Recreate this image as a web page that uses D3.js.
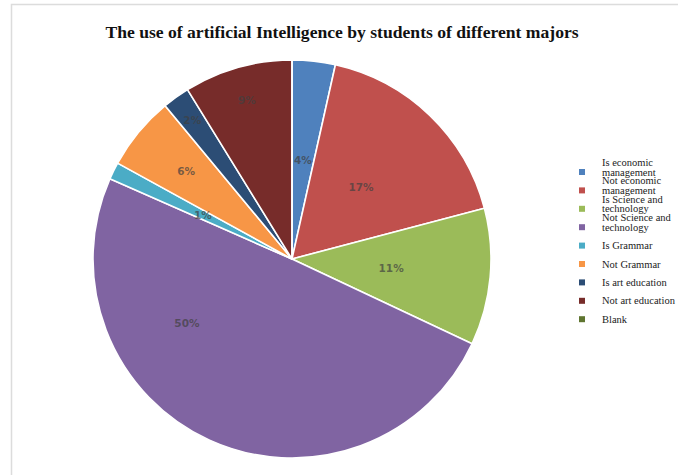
<!DOCTYPE html>
<html>
<head>
<meta charset="utf-8">
<title>AI use by major</title>
<script src="https://d3js.org/d3.v7.min.js"></script>
<style>
  body { margin: 0; background: #fff; }
  svg { display: block; }
</style>
</head>
<body>
<script>

// categories shown in the legend (same order as the slices, clockwise from 12 o'clock)
var categories = [
  "Is economic management",
  "Not economic management",
  "Is Science and technology",
  "Not Science and technology",
  "Is Grammar",
  "Not Grammar",
  "Is art education",
  "Not art education",
  "Blank"
];

// share of students, in percent
var shares = [3.5, 17.4, 11.1, 49.6, 1.4, 6.0, 2.2, 8.8, 0];

var colors = ["#4f81bd", "#c0504d", "#9bbb59", "#8064a2", "#4bacc6",
              "#f79646", "#2c4d75", "#772c2a", "#5f7530"];

var width = 678, height = 475;
var cx = 292, cy = 259, radius = 199;

var svg = d3.select("body").append("svg")
  .attr("width", width)
  .attr("height", height);

// faint frame of the chart area
svg.append("rect")
  .attr("x", 11.5).attr("y", 4.5)
  .attr("width", 720).attr("height", 520)
  .attr("fill", "none")
  .attr("stroke", "#dcdcdc")
  .attr("stroke-width", 1.5);

// title
svg.append("text")
  .attr("x", 342).attr("y", 38)
  .attr("text-anchor", "middle")
  .style("font-family", "'Liberation Serif', 'Times New Roman', serif")
  .style("font-weight", "bold")
  .style("font-size", "17.6px")
  .style("fill", "#111")
  .text("The use of artificial Intelligence by students of different majors");

var pie = d3.pie().sort(null).value(function(d) { return d; });
var arcs = pie(shares);

var arc = d3.arc().innerRadius(0).outerRadius(radius);

var g = svg.append("g").attr("transform", "translate(" + cx + "," + cy + ")");

g.selectAll("path")
  .data(arcs)
  .enter()
  .append("path")
  .attr("d", arc)
  .attr("fill", function(d, i) { return colors[i]; })
  .attr("stroke", "#fff")
  .attr("stroke-width", 1.6)
  .attr("stroke-linejoin", "round");

// label placement: fraction of radius, and where along the slice (0..1)
var place = {
  3: { r: 0.62, t: 0.69 },
  5: { r: 0.69, t: 0.5 },
  6: { r: 0.86, t: 0.5 },
  7: { r: 0.83, t: 0.5 }
};

g.selectAll("text.pct")
  .data(arcs.filter(function(d) { return d.value > 0; }))
  .enter()
  .append("text")
  .attr("class", "pct")
  .attr("text-anchor", "middle")
  .attr("dy", "0.35em")
  .attr("transform", function(d) {
    var p = place[d.index] || { r: 0.5, t: 0.5 };
    var a = d.startAngle + (d.endAngle - d.startAngle) * p.t;
    var r = radius * p.r;
    return "translate(" + (Math.sin(a) * r) + "," + (-Math.cos(a) * r) + ")";
  })
  .style("font-family", "'DejaVu Sans', sans-serif")
  .style("font-weight", "bold")
  .style("font-size", "10.5px")
  .style("fill", "#404040")
  .style("fill-opacity", 0.7)
  .text(function(d) { return Math.round(d.value) + "%"; });

// legend
var legend = svg.append("g").attr("transform", "translate(582,172)");

var row = legend.selectAll("g")
  .data(categories)
  .enter()
  .append("g")
  .attr("transform", function(d, i) { return "translate(0," + (i * 18.4) + ")"; });

row.append("rect")
  .attr("x", -3).attr("y", -3)
  .attr("width", 6).attr("height", 6)
  .attr("fill", function(d, i) { return colors[i]; });

row.each(function(d) {
  var t = d3.select(this).append("text")
    .attr("x", 20)
    .style("font-family", "'Liberation Serif', 'Times New Roman', serif")
    .style("font-size", "10.5px")
    .style("fill", "#222");

  // wrap words onto lines no wider than 76px
  var words = d.split(" "), lines = [], line = [];
  var probe = t.append("tspan");
  words.forEach(function(w) {
    line.push(w);
    probe.text(line.join(" "));
    if (probe.node().getComputedTextLength() > 76 && line.length > 1) {
      line.pop();
      lines.push(line.join(" "));
      line = [w];
    }
  });
  lines.push(line.join(" "));
  probe.remove();

  // last line sits level with the marker, earlier lines stack above
  lines.forEach(function(l, k) {
    t.append("tspan")
      .attr("x", 20)
      .attr("y", 3.5 - (lines.length - 1 - k) * 9.6)
      .text(l);
  });
});

</script>
</body>
</html>
